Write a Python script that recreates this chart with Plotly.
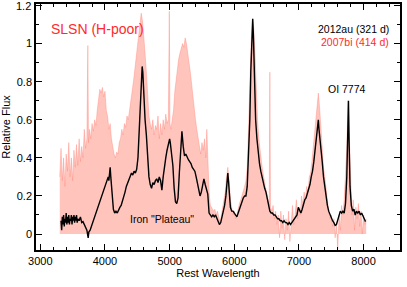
import plotly.graph_objects as go

# 2007bi (414 d) spectrum (red, filled)
wl_07bi = [3300, 3320, 3340, 3360, 3380, 3400, 3420, 3440, 3460, 3480, 3500, 3520, 3540, 3560, 3580,
           3600, 3620, 3640, 3660, 3680, 3700, 3720, 3735, 3745, 3760, 3780, 3800, 3820, 3840, 3860,
           3880, 3900, 3920, 3940, 3960, 3980, 4000, 4020, 4040, 4060, 4080, 4100, 4120, 4140, 4160,
           4180, 4200, 4220, 4240, 4260, 4280, 4300, 4320, 4340, 4360, 4380, 4400, 4420, 4440, 4460,
           4480, 4500, 4520, 4540, 4560, 4580, 4600, 4620, 4640, 4660, 4680, 4700, 4720, 4740, 4760,
           4780, 4800, 4820, 4840, 4860, 4880, 4900, 4920, 4940, 4960, 4980, 4995, 5005, 5020, 5040,
           5060, 5080, 5100, 5120, 5140, 5160, 5180, 5200, 5220, 5240, 5260, 5280, 5300, 5320, 5340,
           5360, 5380, 5400, 5420, 5440, 5460, 5480, 5500, 5520, 5540, 5560, 5575, 5590, 5610, 5630,
           5650, 5680, 5700, 5720, 5740, 5760, 5780, 5800, 5820, 5840, 5860, 5880, 5900, 5920, 5940,
           5960, 5980, 6000, 6020, 6040, 6060, 6080, 6100, 6120, 6140, 6160, 6180, 6200, 6220, 6240,
           6260, 6280, 6300, 6320, 6340, 6360, 6380, 6400, 6420, 6440, 6460, 6480, 6500, 6520, 6540,
           6550, 6560, 6580, 6600, 6620, 6640, 6660, 6680, 6700, 6720, 6740, 6760, 6780, 6800, 6820,
           6840, 6860, 6880, 6900, 6920, 6940, 6960, 6980, 7000, 7020, 7040, 7060, 7080, 7100, 7120,
           7140, 7160, 7180, 7200, 7220, 7240, 7260, 7280, 7300, 7320, 7340, 7360, 7380, 7400, 7420,
           7440, 7460, 7480, 7500, 7520, 7540, 7560, 7580, 7600, 7620, 7640, 7660, 7680, 7700, 7720,
           7740, 7760, 7780, 7800, 7820, 7840, 7860, 7880, 7900, 7920, 7940, 7960, 7980, 8000, 8020,
           8040]
flux_07bi = [0.30, 0.45, 0.28, 0.40, 0.25, 0.42, 0.33, 0.48, 0.30, 0.40, 0.28, 0.44, 0.35, 0.47, 0.36,
             0.50, 0.38, 0.46, 0.40, 0.55, 0.45, 0.50, 0.99, 0.48, 0.55, 0.50, 0.58, 0.54, 0.60, 0.57,
             0.65, 0.70, 0.76, 0.74, 0.77, 0.72, 0.75, 0.65, 0.62, 0.55, 0.58, 0.50, 0.45, 0.42, 0.40,
             0.43, 0.42, 0.48, 0.50, 0.55, 0.52, 0.58, 0.56, 0.62, 0.60, 0.66, 0.70, 0.75, 0.80, 0.85,
             0.92, 0.98, 1.04, 1.10, 1.16, 1.12, 1.05, 0.95, 0.85, 0.70, 0.62, 0.58, 0.55, 0.60, 0.52,
             0.57, 0.55, 0.62, 0.50, 0.58, 0.52, 0.60, 0.55, 0.63, 0.58, 0.60, 1.17, 0.58, 0.55, 0.60,
             0.65, 0.75, 0.82, 0.88, 0.92, 0.95, 0.98, 1.00, 0.98, 1.03, 1.00, 0.96, 0.90, 0.85, 0.78,
             0.70, 0.65, 0.60, 0.55, 0.50, 0.45, 0.42, 0.48, 0.44, 0.50, 0.40, 0.55, 0.35, 0.22, 0.15,
             0.14, 0.12, 0.13, 0.10, 0.12, 0.08, 0.06, 0.10, 0.14, 0.18, 0.22, 0.30, 0.35, 0.28, 0.18,
             0.14, 0.10, 0.12, 0.08, 0.10, 0.14, 0.16, 0.18, 0.20, 0.22, 0.25, 0.28, 0.35, 0.55, 0.80,
             1.00, 1.13, 1.08, 0.95, 0.75, 0.60, 0.50, 0.42, 0.38, 0.33, 0.28, 0.25, 0.22, 0.18, 0.15,
             0.85, 0.14, 0.12, 0.15, 0.08, 0.12, 0.05, 0.10, -0.02, 0.12, 0.03, 0.10, -0.03, 0.08, 0.02,
             0.12, -0.04, 0.06, 0.15, 0.05, 0.10, 0.18, 0.08, 0.14, 0.10, 0.20, 0.15, 0.22, 0.18, 0.25,
             0.22, 0.30, 0.32, 0.38, 0.45, 0.55, 0.62, 0.70, 0.74, 0.66, 0.55, 0.48, 0.35, 0.30, 0.22,
             0.18, 0.12, 0.08, 0.10, 0.04, 0.08, -0.02, 0.06, -0.08, 0.10, 0.02, 0.15, 0.10, 0.18, 0.30,
             0.45, 0.70, 0.50, 0.20, 0.10, 0.18, 0.02, 0.14, 0.08, 0.16, 0.04, 0.12, 0.00, 0.10, 0.05,
             0.08]

# 2012au (321 d) spectrum (black line)
wl_12au = [3320, 3330, 3340, 3350, 3360, 3370, 3380, 3390, 3400, 3410, 3420, 3430, 3440, 3450, 3460,
           3470, 3480, 3490, 3500, 3510, 3520, 3530, 3540, 3550, 3560, 3570, 3580, 3600, 3620, 3640,
           3660, 3680, 3700, 3720, 3740, 3750, 3770, 3790, 3810, 3830, 3850, 3870, 3890, 3910, 3930,
           3950, 3970, 3990, 4010, 4030, 4050, 4060, 4070, 4080, 4090, 4100, 4115, 4130, 4150, 4170,
           4190, 4210, 4230, 4250, 4270, 4290, 4310, 4330, 4350, 4370, 4390, 4410, 4430, 4450, 4470,
           4490, 4510, 4530, 4550, 4565, 4575, 4585, 4600, 4620, 4640, 4660, 4680, 4700, 4720, 4740,
           4760, 4780, 4800, 4820, 4840, 4860, 4880, 4900, 4920, 4940, 4960, 4980, 5000, 5010, 5030,
           5050, 5070, 5090, 5110, 5130, 5150, 5170, 5190, 5210, 5230, 5250, 5270, 5290, 5310, 5330,
           5350, 5370, 5390, 5410, 5430, 5450, 5470, 5490, 5510, 5530, 5550, 5570, 5590, 5610, 5630,
           5650, 5670, 5690, 5710, 5730, 5750, 5770, 5790, 5810, 5830, 5850, 5870, 5890, 5900, 5910,
           5925, 5940, 5960, 5980, 6000, 6020, 6040, 6060, 6080, 6100, 6120, 6140, 6160, 6180, 6200,
           6220, 6240, 6255, 6270, 6285, 6295, 6310, 6330, 6350, 6370, 6390, 6410, 6430, 6450, 6470,
           6490, 6510, 6530, 6550, 6570, 6590, 6610, 6630, 6650, 6670, 6690, 6710, 6730, 6750, 6770,
           6790, 6810, 6830, 6850, 6870, 6890, 6910, 6930, 6950, 6970, 6990, 7010, 7030, 7050, 7070,
           7090, 7110, 7130, 7150, 7170, 7190, 7210, 7230, 7250, 7270, 7285, 7300, 7310, 7320, 7340,
           7360, 7380, 7400, 7420, 7440, 7460, 7480, 7500, 7520, 7540, 7560, 7580, 7600, 7620, 7640,
           7660, 7680, 7700, 7720, 7740, 7755, 7766, 7775, 7790, 7810, 7830, 7850, 7870, 7890, 7910,
           7930, 7950, 7970, 7990, 8010, 8030]
flux_12au = [0.07, 0.02, 0.09, 0.05, 0.10, 0.04, 0.08, 0.06, 0.11, 0.05, 0.09, 0.06, 0.10, 0.05, 0.08,
             0.07, 0.10, 0.05, 0.09, 0.07, 0.10, 0.06, 0.09, 0.07, 0.10, 0.06, 0.08, 0.07, 0.09, 0.06,
             0.065, 0.05, 0.03, 0.02, -0.02, 0.01, 0.02, 0.04, 0.065, 0.08, 0.10, 0.12, 0.14, 0.17, 0.19,
             0.21, 0.22, 0.25, 0.27, 0.28, 0.30, 0.28, 0.32, 0.35, 0.30, 0.24, 0.18, 0.13, 0.11, 0.12,
             0.11, 0.13, 0.14, 0.15, 0.17, 0.19, 0.22, 0.25, 0.27, 0.29, 0.31, 0.32, 0.31, 0.33, 0.32,
             0.34, 0.40, 0.55, 0.72, 0.85, 0.88, 0.85, 0.72, 0.60, 0.52, 0.42, 0.30, 0.26, 0.24, 0.27,
             0.26, 0.28, 0.29, 0.27, 0.30, 0.28, 0.23, 0.30, 0.37, 0.40, 0.44, 0.48, 0.50, 0.48, 0.42,
             0.36, 0.24, 0.17, 0.16, 0.19, 0.32, 0.45, 0.54, 0.46, 0.41, 0.42, 0.40, 0.39, 0.38, 0.37,
             0.35, 0.34, 0.33, 0.30, 0.27, 0.23, 0.20, 0.22, 0.26, 0.29, 0.26, 0.24, 0.21, 0.11, 0.10,
             0.09, 0.10, 0.09, 0.10, 0.08, 0.07, 0.05, 0.06, 0.09, 0.12, 0.15, 0.20, 0.30, 0.32, 0.28,
             0.18, 0.14, 0.12, 0.12, 0.11, 0.10, 0.09, 0.11, 0.13, 0.16, 0.18, 0.19, 0.20, 0.20, 0.25,
             0.40, 0.60, 0.85, 1.05, 1.13, 1.05, 0.80, 0.60, 0.50, 0.42, 0.37, 0.33, 0.30, 0.26, 0.24,
             0.22, 0.19, 0.15, 0.12, 0.11, 0.11, 0.10, 0.10, 0.09, 0.08, 0.08, 0.07, 0.07, 0.06, 0.07,
             0.06, 0.06, 0.05, 0.06, 0.05, 0.06, 0.07, 0.08, 0.09, 0.10, 0.14, 0.12, 0.11, 0.13, 0.16,
             0.18, 0.19, 0.21, 0.23, 0.26, 0.30, 0.33, 0.38, 0.45, 0.50, 0.56, 0.60, 0.55, 0.52, 0.45,
             0.38, 0.30, 0.24, 0.19, 0.15, 0.12, 0.10, 0.08, 0.07, 0.06, 0.045, 0.05, 0.07, 0.10, 0.12,
             0.11, 0.12, 0.11, 0.16, 0.30, 0.55, 0.70, 0.50, 0.25, 0.15, 0.12, 0.13, 0.10, 0.12, 0.11,
             0.12, 0.10, 0.11, 0.09, 0.08, 0.065]

x_ticks = [3000, 4000, 5000, 6000, 7000, 8000]
y_ticks = [0, 0.2, 0.4, 0.6, 0.8, 1, 1.2]
y_tick_labels = ["0", "0.2", "0.4", "0.6", "0.8", "1", ""]
y_top_label = "1.2"

FONT = "Liberation Sans, Arial, Helvetica, sans-serif"
RED = "#ff2a2a"

fig = go.Figure()
fig.add_trace(go.Scatter(
    x=wl_07bi, y=flux_07bi, mode="lines", fill="tozeroy",
    fillcolor="rgba(255,150,135,0.55)",
    line=dict(color="rgba(255,120,110,0.35)", width=1),
    name="2007bi (414 d)", showlegend=False))
fig.add_trace(go.Scatter(
    x=wl_12au, y=flux_12au, mode="lines",
    line=dict(color="black", width=1.4),
    name="2012au (321 d)", showlegend=False))

axis_common = dict(
    showline=True, linecolor="black", linewidth=1.5, mirror="allticks",
    ticks="inside", ticklen=6, tickwidth=1.3, tickcolor="black",
    showgrid=False, zeroline=False, automargin=False, ticklabeloverflow="allow",
    tickfont=dict(family=FONT, size=11, color="black"),
)
fig.update_xaxes(
    range=[2933, 8563], tickvals=x_ticks,
    minor=dict(ticks="inside", ticklen=3, tickwidth=1, tickcolor="black", dtick=200, tick0=3000),
    title=dict(text="Rest Wavelength", font=dict(family=FONT, size=11, color="black"), standoff=2),
    **axis_common)
fig.update_yaxes(
    range=[-0.084, 1.208], tickvals=y_ticks, ticktext=y_tick_labels,
    minor=dict(ticks="inside", ticklen=3, tickwidth=1, tickcolor="black", dtick=0.1, tick0=0),
    title=dict(text="Relative Flux", font=dict(family=FONT, size=11, color="black"), standoff=4),
    **axis_common)

# top y tick label (drawn as text so it is not dropped at the plot edge)
fig.add_annotation(xref="paper", x=0, y=y_ticks[-1], text=y_top_label, showarrow=False,
                   xanchor="right", yanchor="middle", xshift=-3,
                   font=dict(family=FONT, size=11, color="black"))

fig.add_annotation(x=3134, y=1.079, text="SLSN (H-poor)", showarrow=False,
                   xanchor="left", yanchor="middle", font=dict(family=FONT, size=14, color=RED))
fig.add_annotation(x=8420, y=1.079, text="2012au (321 d)", showarrow=False,
                   xanchor="right", yanchor="middle", font=dict(family=FONT, size=10.5, color="black"))
fig.add_annotation(x=8420, y=1.01, text="2007bi (414 d)", showarrow=False,
                   xanchor="right", yanchor="middle", font=dict(family=FONT, size=10.5, color=RED))
fig.add_annotation(x=7740, y=0.763, text="OI 7774", showarrow=False,
                   xanchor="center", yanchor="middle", font=dict(family=FONT, size=10.5, color="black"))
fig.add_annotation(x=4360, y=0.079, text="Iron \"Plateau\"", showarrow=False,
                   xanchor="left", yanchor="middle", font=dict(family=FONT, size=10.5, color="black"))

fig.update_layout(
    width=407, height=287,
    margin=dict(l=36, r=7, t=4, b=37),
    paper_bgcolor="white", plot_bgcolor="white",
)
fig.write_html("out.html", config={"displayModeBar": False},
               post_script="document.body.style.margin='0';document.body.style.padding='0';"
                           "document.body.style.overflow='hidden';")
